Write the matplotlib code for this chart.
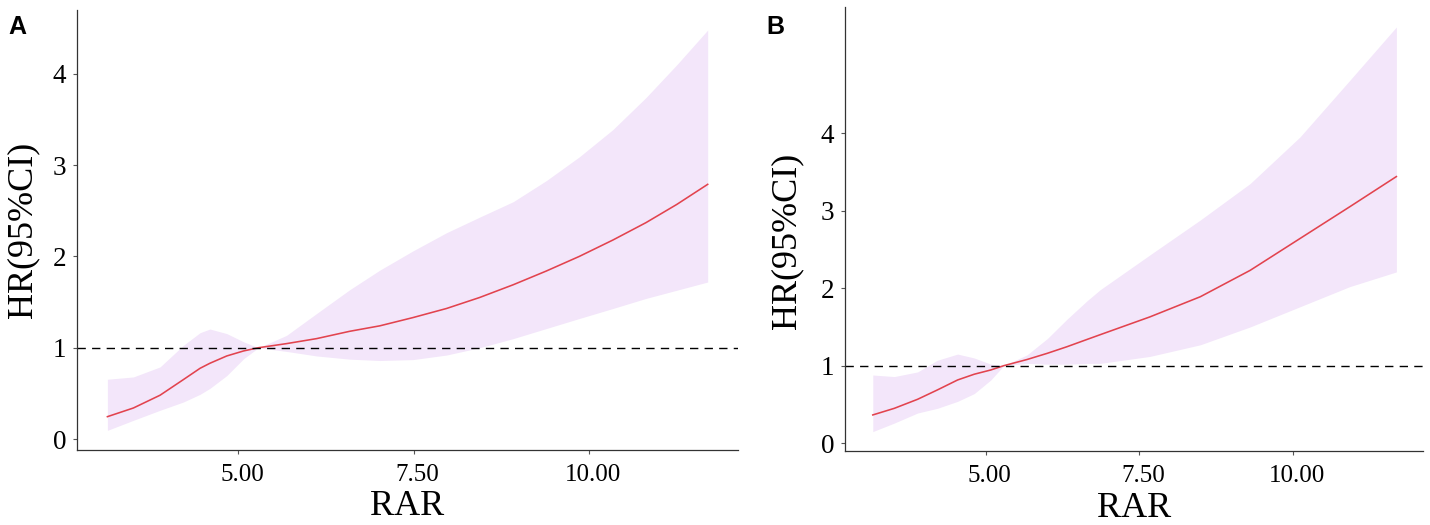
import matplotlib
matplotlib.use("Agg")
import matplotlib.pyplot as plt
import matplotlib.transforms as mtransforms

# Panel A: RCS curve of HR against RAR
rar_a = [3.14, 3.51, 3.89, 4.22, 4.46, 4.60, 4.84, 5.08, 5.29, 5.69, 6.12,
         6.59, 7.02, 7.49, 7.97, 8.44, 8.92, 9.39, 9.86, 10.34, 10.81, 11.25,
         11.69]
hr_a = [0.245, 0.34, 0.48, 0.65, 0.775, 0.83, 0.91, 0.965, 1.0, 1.045, 1.10,
        1.18, 1.24, 1.33, 1.43, 1.55, 1.69, 1.84, 2.0, 2.18, 2.37, 2.57, 2.79]
upper_a = [0.655, 0.68, 0.79, 1.025, 1.165, 1.205, 1.155, 1.065, 1.0, 1.135,
           1.375, 1.635, 1.85, 2.06, 2.26, 2.43, 2.60, 2.83, 3.09, 3.39, 3.74,
           4.10, 4.48]
lower_a = [0.095, 0.205, 0.315, 0.405, 0.49, 0.555, 0.695, 0.88, 1.0, 0.96,
           0.91, 0.875, 0.86, 0.87, 0.92, 1.0, 1.10, 1.21, 1.32, 1.43, 1.54,
           1.63, 1.72]

# Panel B
rar_b = [3.16, 3.51, 3.89, 4.21, 4.54, 4.81, 5.08, 5.29, 5.67, 6.00, 6.32,
         6.65, 6.86, 7.67, 8.49, 9.30, 10.11, 10.92, 11.68]
hr_b = [0.365, 0.45, 0.567, 0.687, 0.816, 0.89, 0.945, 1.0, 1.08, 1.16,
        1.245, 1.34, 1.40, 1.63, 1.89, 2.23, 2.64, 3.05, 3.44]
upper_b = [0.88, 0.86, 0.92, 1.07, 1.15, 1.10, 1.02, 1.0, 1.14, 1.35, 1.60,
           1.84, 1.98, 2.43, 2.88, 3.35, 3.95, 4.68, 5.37]
lower_b = [0.15, 0.26, 0.39, 0.45, 0.54, 0.64, 0.816, 1.0, 1.03, 1.02, 1.02,
           1.03, 1.03, 1.12, 1.27, 1.50, 1.76, 2.02, 2.21]

x_ticks = [5.0, 7.5, 10.0]
x_ticklabels = ["5.00", "7.50", "10.00"]
y_ticks = [0, 1, 2, 3, 4]

serif = ["Liberation Serif", "DejaVu Serif"]

fig = plt.figure(figsize=(14.3, 5.25), dpi=100)
ax_a = fig.add_axes([0.054, 0.1434, 0.462, 0.8376])
ax_b = fig.add_axes([0.591, 0.141, 0.4044, 0.846])

panels = [
    (ax_a, rar_a, hr_a, upper_a, lower_a, (-0.117, 4.70), (-0.058, 0.5)),
    (ax_b, rar_b, hr_b, upper_b, lower_b, (-0.10, 5.63), (-0.072, 0.473)),
]

# tick labels sit a few pixels right of their ticks in the original
shift = mtransforms.ScaledTranslation(4 / 100, 0, fig.dpi_scale_trans)

for ax, x, hr, up, lo, ylim, ylab_xy in panels:
    ax.fill_between(x, lo, up, color="#F3E6FA", linewidth=0)
    ax.plot(x, hr, color="#E2434E", linewidth=1.15)
    ax.axhline(1, color="black", linewidth=1.0, dashes=(6, 4.5))

    ax.set_xlim(2.71, 12.12)
    ax.set_ylim(*ylim)
    ax.set_xticks(x_ticks)
    ax.set_xticklabels(x_ticklabels)
    ax.set_yticks(y_ticks)

    for s in ["top", "right"]:
        ax.spines[s].set_visible(False)
    for s in ["left", "bottom"]:
        ax.spines[s].set_color("#333333")
        ax.spines[s].set_linewidth(0.9)

    ax.tick_params(axis="both", direction="out", length=3, width=0.8,
                   color="#555555")
    ax.tick_params(axis="x", labelsize=18, pad=7)
    ax.tick_params(axis="y", labelsize=19.5, pad=5)
    for lab in ax.get_xticklabels():
        lab.set_family(serif)
        lab.set_transform(lab.get_transform() + shift)
    for lab in ax.get_yticklabels():
        lab.set_family(serif)

    ax.set_xlabel("RAR", family=serif, fontsize=26)
    ax.set_ylabel("HR(95%CI)", family=serif, fontsize=26)
    ax.xaxis.set_label_coords(0.5, -0.092)
    ax.yaxis.set_label_coords(*ylab_xy)

fig.text(0.006, 0.972, "A", family=["Liberation Sans", "DejaVu Sans"],
         fontsize=18, fontweight="bold", va="top", ha="left")
fig.text(0.536, 0.972, "B", family=["Liberation Sans", "DejaVu Sans"],
         fontsize=18, fontweight="bold", va="top", ha="left")

fig.savefig("out.png", dpi=100, facecolor="white")
